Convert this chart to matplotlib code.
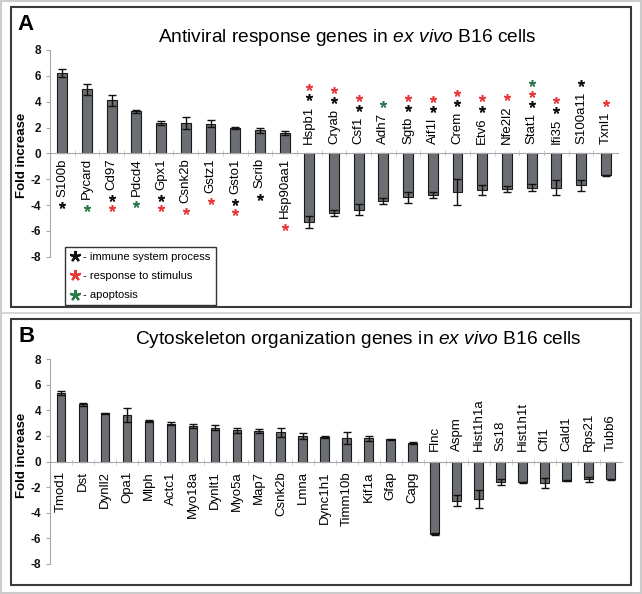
import numpy as np
import matplotlib.pyplot as plt
from matplotlib.patches import Rectangle
from matplotlib.lines import Line2D

plt.rcParams['font.family'] = ['Liberation Sans', 'DejaVu Sans']
plt.rcParams['axes.unicode_minus'] = False
plt.rcParams['mathtext.fontset'] = 'custom'
plt.rcParams['mathtext.rm'] = 'Liberation Sans'
plt.rcParams['mathtext.it'] = 'Liberation Sans:italic'

# Panel A - antiviral response genes
genes_a = ["S100b", "Pycard", "Cd97", "Pdcd4", "Gpx1", "Csnk2b", "Gstz1", "Gsto1",
           "Scrib", "Hsp90aa1", "Hspb1", "Cryab", "Csf1", "Adh7", "Sgtb", "Aif1l",
           "Crem", "Etv6", "Nfe2l2", "Stat1", "Ifi35", "S100a11", "Txnl1"]
fold_a = [6.2, 4.95, 4.1, 3.25, 2.35, 2.35, 2.3, 1.95, 1.8, 1.6,
          -5.3, -4.6, -4.35, -3.7, -3.4, -3.2, -3.0, -2.85, -2.78, -2.65,
          -2.65, -2.48, -1.7]
err_a = [0.3, 0.4, 0.4, 0.1, 0.15, 0.45, 0.25, 0.1, 0.2, 0.15,
         0.45, 0.25, 0.4, 0.25, 0.42, 0.22, 1.0, 0.38, 0.22, 0.26,
         0.6, 0.45, 0.03]
# k = immune system process, r = response to stimulus, g = apoptosis
stars_a = ["k", "g", "kr", "g", "kr", "r", "r", "kr", "k", "r",
           "kr", "kr", "kr", "g", "kr", "kr", "kr", "kr", "r", "krg",
           "kr", "k", "r"]

# Panel B - cytoskeleton organization genes
genes_b = ["Tmod1", "Dst", "Dynll2", "Opa1", "Mlph", "Actc1", "Myo18a", "Dynlt1",
           "Myo5a", "Map7", "Csnk2b", "Lmna", "Dync1h1", "Timm10b", "Kif1a", "Gfap",
           "Capg", "Flnc", "Aspm", "Hist1h1a", "Ss18", "Hist1h1t", "Cfl1", "Cald1",
           "Rps21", "Tubb6"]
fold_b = [5.35, 4.45, 3.75, 3.6, 3.15, 2.95, 2.75, 2.62, 2.45, 2.38, 2.3, 2.0,
          1.92, 1.85, 1.82, 1.72, 1.45, -5.65, -3.05, -2.95, -1.6, -1.62,
          -1.65, -1.52, -1.38, -1.38]
err_b = [0.15, 0.08, 0.05, 0.55, 0.06, 0.12, 0.15, 0.2, 0.2, 0.12, 0.35, 0.25,
         0.06, 0.45, 0.2, 0.05, 0.05, 0.06, 0.4, 0.7, 0.22, 0.04, 0.4, 0.04,
         0.2, 0.04]

star_colors = {"k": "#111111", "r": "#e8393a", "g": "#2a7a4c"}
bar_color = "#6b6f73"
axis_gray = "#a8a8a8"
yticks = [-8, -6, -4, -2, 0, 2, 4, 6, 8]

W, H = 642, 594
fig = plt.figure(figsize=(W / 100, H / 100), dpi=100)


def fx(px):
    return px / W


def fy(py):
    return 1 - py / H


def setup_axes(ax, n):
    ax.set_xlim(-0.5, n - 0.5)
    ax.set_ylim(-8, 8)
    for s in ["top", "right"]:
        ax.spines[s].set_visible(False)
    ax.spines["left"].set_color(axis_gray)
    ax.spines["bottom"].set_color(axis_gray)
    ax.spines["bottom"].set_position(("data", 0))
    ax.set_yticks(yticks, labels=[str(v) for v in yticks])
    ax.tick_params(axis="y", colors=axis_gray, length=3, labelcolor="#111111",
                   labelsize=8.5)
    for lab in ax.get_yticklabels():
        lab.set_fontweight("bold")
    ax.set_xticks([])
    ax.set_xticks(np.arange(n - 1) + 0.5, minor=True)
    ax.tick_params(axis="x", which="minor", direction="inout", length=5,
                   colors="#c8c8c8")
    ax.patch.set_visible(False)


def draw_bars(ax, genes, vals, errs, pos_off, neg_off):
    x = np.arange(len(genes))
    ax.bar(x, vals, width=0.4, color=bar_color, edgecolor="#1a1a1a",
           linewidth=0.8, zorder=2)
    ax.errorbar(x, vals, yerr=errs, fmt="none", ecolor="#111111",
                elinewidth=1, capsize=3, capthick=1, zorder=3)
    texts = []
    for i, (g, v) in enumerate(zip(genes, vals)):
        if v >= 0:
            t = ax.annotate(g, (i, 0), xytext=(0, -pos_off), textcoords="offset points",
                            rotation=90, ha="center", va="top", fontsize=9.5)
        else:
            t = ax.annotate(g, (i, 0), xytext=(0, neg_off), textcoords="offset points",
                            rotation=90, ha="center", va="bottom", fontsize=9.5)
        texts.append(t)
    return texts


# panel frames
fig.add_artist(Rectangle((0.002, 0.002), 0.996, 0.996, transform=fig.transFigure,
                         fill=False, edgecolor="#cccccc", linewidth=1.5))
fig.add_artist(Line2D([0, 1], [fy(313), fy(313)], transform=fig.transFigure,
                      color="#d0d0d0", linewidth=1.2))
for top, bottom in [(7, 307), (319, 585)]:
    fig.add_artist(Rectangle((fx(11), fy(bottom)), fx(620), (bottom - top) / H,
                             transform=fig.transFigure, fill=False,
                             edgecolor="#3a3a3a", linewidth=1.5))

ax_a = fig.add_axes([fx(50), fy(256.7), fx(568), (256.7 - 50) / H])
ax_b = fig.add_axes([fx(50), fy(564), fx(571.7), (564 - 359) / H])
setup_axes(ax_a, len(genes_a))
setup_axes(ax_b, len(genes_b))

texts_a = draw_bars(ax_a, genes_a, fold_a, err_a, 3.5, 7)
draw_bars(ax_b, genes_b, fold_b, err_b, 7, 7.5)

# titles, panel letters, axis labels
fig.text(fx(347), fy(37), "Antiviral response genes in $\\it{ex\\ vivo}$ B16 cells",
         ha="center", va="center", fontsize=13.8)
fig.text(fx(358), fy(339), "Cytoskeleton organization genes in $\\it{ex\\ vivo}$ B16 cells",
         ha="center", va="center", fontsize=13.8)
fig.text(fx(17), fy(25), "A", fontsize=16, fontweight="bold", va="center")
fig.text(fx(18), fy(336), "B", fontsize=16, fontweight="bold", va="center")
fig.text(fx(22), fy(155), "Fold increase", rotation=90, ha="center", va="center",
         fontsize=9.5, fontweight="bold")
fig.text(fx(22), fy(455), "Fold increase", rotation=90, ha="center", va="center",
         fontsize=9.5, fontweight="bold")

# legend for the asterisk colours
handles = [Line2D([], [], ls="none", marker=(5, 2, 0), color=star_colors[c],
                  markersize=8, markeredgewidth=1.6) for c in "krg"]
leg = fig.legend(handles, ["- immune system process", "- response to stimulus",
                           "- apoptosis"],
                 loc="upper left", bbox_to_anchor=(fx(65), fy(246.5)),
                 borderaxespad=0, fontsize=8, handlelength=0.9, handletextpad=0.3,
                 labelspacing=0.85, borderpad=0.45, fancybox=False,
                 edgecolor="#333333", framealpha=1)
leg.get_frame().set_linewidth(1.0)

# asterisks placed beyond each gene label
fig.canvas.draw()
renderer = fig.canvas.get_renderer()
to_data = ax_a.transData.inverted()
pt = fig.dpi / 72
for i, (t, v, s) in enumerate(zip(texts_a, fold_a, stars_a)):
    bb = t.get_window_extent(renderer)
    for k, c in enumerate(s):
        if v >= 0:
            ypix = bb.y0 - (6 + 7 * k) * pt
        else:
            ypix = bb.y1 + (6 + 7.5 * k) * pt
        xd, yd = to_data.transform((0, ypix))
        ax_a.plot(i, yd, ls="none", marker=(5, 2, 0), color=star_colors[c],
                  markersize=5, markeredgewidth=1.1, clip_on=False, zorder=4)

fig.savefig("out.png", dpi=100)
